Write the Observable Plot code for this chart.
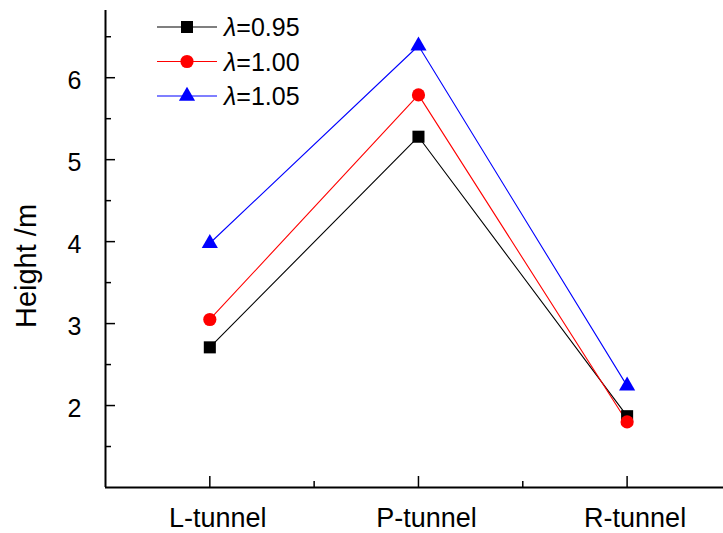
<!DOCTYPE html>
<html>
<head>
<meta charset="utf-8">
<script src="https://cdn.jsdelivr.net/npm/d3@7"></script>
<script src="https://cdn.jsdelivr.net/npm/@observablehq/plot@0.6"></script>
<style>
  html, body { margin: 0; padding: 0; background: #fff; }
  svg { display: block; }
</style>
</head>
<body>
<div id="chart"></div>
<script>
// ---- data ----
const categories = ["L-tunnel", "P-tunnel", "R-tunnel"];
const seriesNames = ["0.95", "1.00", "1.05"];
const lambda095 = [2.71, 5.28, 1.87];
const lambda100 = [3.05, 5.79, 1.80];
const lambda105 = [3.98, 6.39, 2.24];
const yTicks = [2, 3, 4, 5, 6];
const yMinorTicks = [1.5, 2.5, 3.5, 4.5, 5.5, 6.5];
const xMajorTicks = [0, 1, 2];
const xMinorTicks = [0.5, 1.5];

// ---- styling ----
const colors = ["#000000", "#ff0000", "#0000ff"];
const symbols = ["square", "circle", "triangle"];
const radii = [6.8, 6.6, 6.0];
const W = 723, H = 533;
const mL = 105, mR = 0, mT = 10, mB = 46;
const plotW = W - mL - mR, plotH = H - mT - mB;
const font = "'Liberation Sans', Arial, Helvetica, sans-serif";

const allSeries = [lambda095, lambda100, lambda105];
const rows = allSeries.flatMap((vals, s) =>
  vals.map((v, i) => ({series: s, idx: i, value: v})));

const marks = [];
// axis lines
marks.push(Plot.ruleX([-0.5], {stroke: "#000", strokeWidth: 2}));
marks.push(Plot.ruleY([1], {stroke: "#000", strokeWidth: 2}));
// inward ticks
marks.push(Plot.ruleY(yTicks, {stroke: "#000", strokeWidth: 1.5, insetRight: plotW - 10}));
marks.push(Plot.ruleY(yMinorTicks, {stroke: "#000", strokeWidth: 1.5, insetRight: plotW - 6}));
marks.push(Plot.ruleX(xMajorTicks, {stroke: "#000", strokeWidth: 1.5, insetTop: plotH - 11}));
marks.push(Plot.ruleX(xMinorTicks, {stroke: "#000", strokeWidth: 1.5, insetTop: plotH - 6}));
// tick labels
marks.push(Plot.axisY({ticks: yTicks, tickFormat: d => String(d), tickSize: 0, tickPadding: 24, fontSize: 25, dy: 3, label: null}));
marks.push(Plot.axisX({ticks: xMajorTicks, tickFormat: i => categories[i], tickSize: 0, tickPadding: 20, fontSize: 27, dx: 8, label: null}));
// series
allSeries.forEach((vals, s) => {
  const data = rows.filter(d => d.series === s);
  marks.push(Plot.line(data, {x: "idx", y: "value", stroke: colors[s], strokeWidth: 1.1}));
});
allSeries.forEach((vals, s) => {
  const data = rows.filter(d => d.series === s);
  marks.push(Plot.dot(data, {x: "idx", y: "value", symbol: symbols[s], r: radii[s], fill: colors[s], stroke: "none"}));
});

const chart = Plot.plot({
  width: W, height: H,
  marginLeft: mL, marginRight: mR, marginTop: mT, marginBottom: mB,
  style: {fontFamily: font, background: "#fff", color: "#000"},
  x: {type: "linear", domain: [-0.5, 2.462], axis: null},
  y: {type: "linear", domain: [1, 6.82], axis: null},
  marks
});

// y axis label
const svg = d3.select(chart);
svg.append("text")
  .attr("transform", "translate(36,266) rotate(-90)")
  .attr("text-anchor", "middle")
  .attr("font-family", font)
  .attr("font-size", 29)
  .attr("fill", "#000")
  .text("Height /m");

// legend
const lg = svg.append("g").attr("text-anchor", "start");
seriesNames.forEach((name, s) => {
  const cy = 27 + s * 34.5;
  lg.append("line").attr("x1", 157).attr("x2", 217).attr("y1", cy).attr("y2", cy)
    .attr("stroke", colors[s]).attr("stroke-width", 1.1);
  const sym = {square: d3.symbolSquare, circle: d3.symbolCircle, triangle: d3.symbolTriangle}[symbols[s]];
  lg.append("path")
    .attr("d", d3.symbol(sym, Math.PI * radii[s] * radii[s])())
    .attr("transform", `translate(187,${cy})`)
    .attr("fill", colors[s]);
  const t = lg.append("text").attr("x", 224).attr("y", cy + 9)
    .attr("text-anchor", "start")
    .attr("font-family", font).attr("font-size", 25).attr("fill", "#000");
  t.append("tspan").attr("font-style", "italic").text("λ");
  t.append("tspan").text("=" + name);
});

document.getElementById("chart").appendChild(chart);
</script>
</body>
</html>
